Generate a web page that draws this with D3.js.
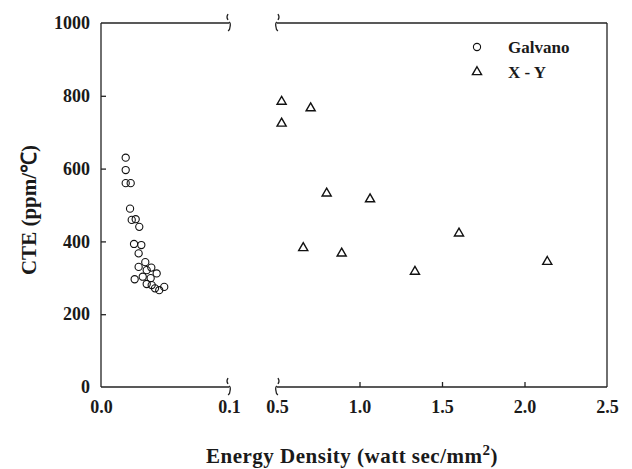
<!DOCTYPE html>
<html>
<head>
<meta charset="utf-8">
<script src="https://cdn.jsdelivr.net/npm/d3@7"></script>
<style>
  body { margin: 0; background: #fff; }
  svg { display: block; }
  .lbl { font-family: "Liberation Serif", "Times New Roman", serif; font-weight: bold; fill: #1a1a1a; }
</style>
</head>
<body>
<div id="chart"></div>
<script>
// Galvano series (energy density, CTE)
var galvanoX = [0.0193, 0.0193, 0.0193, 0.0232, 0.0227, 0.024, 0.0271, 0.0299, 0.0258, 0.0315,
                0.0294, 0.0346, 0.0294, 0.0393, 0.0357, 0.0435, 0.0263, 0.0326, 0.0388, 0.0357,
                0.0396, 0.0422, 0.0455, 0.0494];
var galvanoY = [630, 596, 560, 560, 490, 459, 461, 440, 393, 390,
                367, 343, 330, 328, 321, 312, 296, 303, 299, 283,
                280, 271, 266, 275];

// X - Y series
var xyX = [0.528, 0.704, 0.528, 0.801, 1.064, 0.659, 0.892, 1.603, 1.336, 2.138];
var xyY = [784, 766, 724, 532, 516, 382, 367, 422, 317, 344];

var leftTicks = [0.0, 0.1];
var rightTicks = [0.5, 1.0, 1.5, 2.0, 2.5];
var yTicks = [0, 200, 400, 600, 800, 1000];
var seriesNames = ["Galvano", "X - Y"];

var W = 632, H = 469;
var svg = d3.select("#chart").append("svg").attr("width", W).attr("height", H);

var xLeft = d3.scaleLinear().domain([0, 0.1]).range([101, 229]);
var xRight = d3.scaleLinear().domain([0.5, 2.5]).range([277, 607]);
var y = d3.scaleLinear().domain([0, 1000]).range([387, 23]);

var axisColor = "#222";

// frame lines (broken between the two segments)
function hline(x1, x2, yy) {
    svg.append("line").attr("x1", x1).attr("x2", x2).attr("y1", yy).attr("y2", yy)
        .attr("stroke", axisColor).attr("stroke-width", 1.3);
}
hline(xLeft(0), xLeft(0.1), y(0));
hline(xRight(0.5), xRight(2.5), y(0));
hline(xLeft(0), xLeft(0.1), y(1000));
hline(xRight(0.5), xRight(2.5), y(1000));
svg.append("line").attr("x1", xLeft(0)).attr("x2", xLeft(0)).attr("y1", y(0)).attr("y2", y(1000))
    .attr("stroke", axisColor).attr("stroke-width", 1.3);
svg.append("line").attr("x1", xRight(2.5)).attr("x2", xRight(2.5)).attr("y1", y(0)).attr("y2", y(1000))
    .attr("stroke", axisColor).attr("stroke-width", 1.3);

// break marks
function breakMark(bx, by, dir) {
    svg.append("path")
        .attr("d", "M" + (bx - dir * 1) + "," + (by - 9) +
                   " q" + (-dir * 2) + ",3 0,6 M" + bx + "," + (by - 1) +
                   " q" + (dir * 2) + ",1 " + (dir * 1) + ",5 q0,3 " + (-dir * 2) + ",4")
        .attr("fill", "none").attr("stroke", axisColor).attr("stroke-width", 1.3);
}
[y(0), y(1000)].forEach(function (by) {
    breakMark(xLeft(0.1), by, 1);
    breakMark(xRight(0.5), by, -1);
});

// y axis
var yAxis = d3.axisLeft(y).tickValues(yTicks).tickSize(-5).tickPadding(11).tickFormat(d3.format("d"));
var gy = svg.append("g").attr("transform", "translate(" + xLeft(0) + ",0)").call(yAxis);
gy.select(".domain").remove();
gy.selectAll(".tick line").attr("stroke", axisColor).attr("stroke-width", 1.3)
    .filter(function (d) { return d === 0 || d === 1000; }).remove();
gy.selectAll(".tick text").attr("class", "lbl").style("font-size", "18px");

// x axes
var gxl = svg.append("g").attr("transform", "translate(0," + y(0) + ")")
    .call(d3.axisBottom(xLeft).tickValues(leftTicks).tickSize(0).tickPadding(13).tickFormat(d3.format(".1f")));
gxl.select(".domain").remove();
gxl.selectAll(".tick text").attr("class", "lbl").style("font-size", "18px");

var gxr = svg.append("g").attr("transform", "translate(0," + y(0) + ")")
    .call(d3.axisBottom(xRight).tickValues(rightTicks).tickSize(-5).tickPadding(13).tickFormat(d3.format(".1f")));
gxr.select(".domain").remove();
gxr.selectAll(".tick line").attr("stroke", axisColor).attr("stroke-width", 1.3)
    .filter(function (d) { return d === 0.5 || d === 2.5; }).remove();
gxr.selectAll(".tick line").attr("y1", 0).attr("y2", -5);
gxr.selectAll(".tick text").attr("class", "lbl").style("font-size", "18px").attr("y", 13);

// markers
var galvano = galvanoX.map(function (v, i) { return { x: v, y: galvanoY[i] }; });
var xy = xyX.map(function (v, i) { return { x: v, y: xyY[i] }; });

svg.selectAll(".gal").data(galvano).enter().append("circle")
    .attr("class", "gal")
    .attr("cx", function (d) { return xLeft(d.x); })
    .attr("cy", function (d) { return y(d.y); })
    .attr("r", 3.6)
    .attr("fill", "none").attr("stroke", "#111").attr("stroke-width", 1.1);

var tri = d3.symbol().type(d3.symbolTriangle).size(36);
svg.selectAll(".xy").data(xy).enter().append("path")
    .attr("class", "xy")
    .attr("d", tri)
    .attr("transform", function (d) { return "translate(" + xRight(d.x) + "," + y(d.y) + ")"; })
    .attr("fill", "none").attr("stroke", "#111").attr("stroke-width", 1.4);

// legend
var legend = svg.append("g");
legend.append("circle").attr("cx", 477).attr("cy", 47).attr("r", 3.6)
    .attr("fill", "none").attr("stroke", "#111").attr("stroke-width", 1.1);
legend.append("path").attr("d", tri).attr("transform", "translate(477,72)")
    .attr("fill", "none").attr("stroke", "#111").attr("stroke-width", 1.4);
legend.selectAll("text").data(seriesNames).enter().append("text")
    .attr("class", "lbl")
    .attr("x", 508)
    .attr("y", function (d, i) { return 53 + i * 25; })
    .style("font-size", "17px")
    .text(function (d) { return d; });

// axis titles
svg.append("text").attr("class", "lbl")
    .attr("transform", "translate(36,210) rotate(-90)")
    .attr("text-anchor", "middle")
    .style("font-size", "21px")
    .text("CTE (ppm/℃)");

var xt = svg.append("text").attr("class", "lbl")
    .attr("x", 352).attr("y", 463)
    .attr("text-anchor", "middle")
    .style("font-size", "21px")
    .style("letter-spacing", "0.5px");
xt.append("tspan").text("Energy Density (watt sec/mm");
xt.append("tspan").attr("dy", -8).style("font-size", "15px").text("2");
xt.append("tspan").attr("dy", 8).text(")");
</script>
</body>
</html>
